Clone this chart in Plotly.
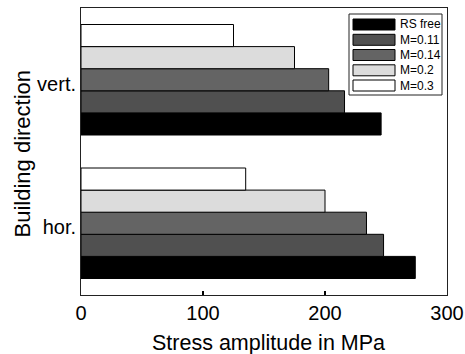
import plotly.graph_objects as go

categories = ["hor.", "vert."]
series_names = ["RS free", "M=0.11", "M=0.14", "M=0.2", "M=0.3"]
series_values = [
    [274, 246],
    [248, 216],
    [234, 203],
    [200, 175],
    [135, 125],
]
series_colors = ["#000000", "#505050", "#646464", "#dcdcdc", "#ffffff"]
x_ticks = [0, 100, 200, 300]
x_title = "Stress amplitude in MPa"
y_title = "Building direction"

W, H = 465, 354
L, R, T, B = 81, 447, 8, 295

FONT = "Arial, Liberation Sans, sans-serif"

fig = go.Figure()
for name, vals, col in zip(series_names, series_values, series_colors):
    fig.add_trace(go.Bar(
        y=categories, x=vals, name=name, orientation="h",
        marker=dict(color=col, line=dict(color="#000000", width=1)),
        showlegend=False,
    ))

def px(x):
    return (x - L) / (R - L)

def py(y):
    return 1 - (y - T) / (B - T)

shapes = []
annotations = []
# custom legend box
shapes.append(dict(type="rect", xref="paper", yref="paper",
                   x0=px(349), x1=px(442), y0=py(95), y1=py(14),
                   line=dict(color="#222", width=1), fillcolor="white", layer="above"))
row_centers = [24.5, 39.8, 55.0, 70.3, 85.5]
for name, col, yc in zip(series_names, series_colors, row_centers):
    shapes.append(dict(type="rect", xref="paper", yref="paper",
                       x0=px(353), x1=px(395), y0=py(yc + 5.5), y1=py(yc - 5.5),
                       line=dict(color="#000", width=1), fillcolor=col, layer="above"))
    annotations.append(dict(xref="paper", yref="paper", x=px(398), y=py(yc),
                            text=name, showarrow=False, xanchor="left", yanchor="middle",
                            font=dict(family=FONT, size=12, color="#000")))

annotations.append(dict(xref="paper", yref="paper", x=px(268), y=py(343),
                        text=x_title, showarrow=False, xanchor="center", yanchor="middle",
                        font=dict(family=FONT, size=21.5, color="#000")))
annotations.append(dict(xref="paper", yref="paper", x=px(22), y=py(153.5),
                        text=y_title, showarrow=False, xanchor="center", yanchor="middle",
                        textangle=-90,
                        font=dict(family=FONT, size=22, color="#000")))

fig.update_layout(
    width=W, height=H,
    margin=dict(l=L, r=W - R, t=T, b=H - B, pad=0),
    paper_bgcolor="white", plot_bgcolor="white",
    barmode="group", bargap=0.23, bargroupgap=0,
    font=dict(family=FONT, size=20, color="#000"),
    shapes=shapes, annotations=annotations,
    hovermode=False,
    xaxis=dict(range=[0, 300], tickvals=x_ticks, ticks="inside", ticklen=4, tickwidth=2,
               tickcolor="#000", showline=True, linecolor="#222", linewidth=1, mirror=True,
               showgrid=False, zeroline=False, automargin=False,
               tickfont=dict(size=20)),
    yaxis=dict(categoryorder="array", categoryarray=categories, range=[-0.5, 1.5],
               showline=True, linecolor="#222", linewidth=1, mirror=True, ticks="",
               showgrid=False, zeroline=False, automargin=False, ticklabelshift=4,
               tickfont=dict(size=20)),
)

fig.write_html("out.html", config={"displayModeBar": False},
               post_script="document.body.style.margin='0';document.body.style.padding='0';")
